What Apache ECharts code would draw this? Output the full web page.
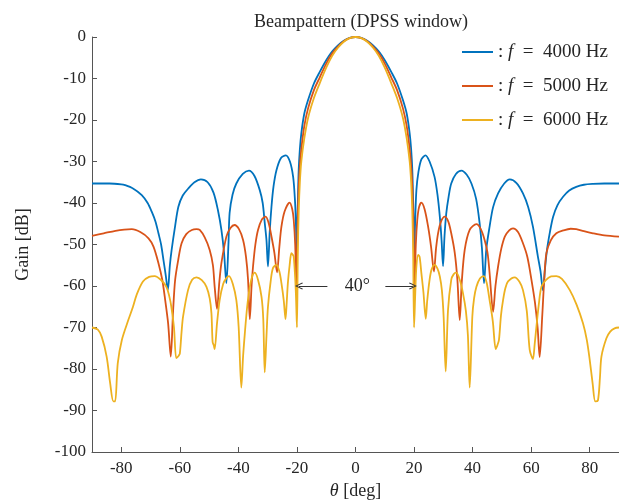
<!DOCTYPE html>
<html>
<head>
<meta charset="utf-8">
<script src="https://cdn.jsdelivr.net/npm/echarts@6/dist/echarts.min.js"></script>
<style>
  html, body { margin: 0; padding: 0; background: #fff; }
  #chart { width: 619px; height: 504px; }
</style>
</head>
<body>
<div id="chart"></div>
<script>
// Values: [theta (deg), gain (dB)]
const freqs = [4000, 5000, 6000]
const xTicks = [-80, -60, -40, -20, 0, 20, 40, 60, 80]

const gain4000 = [
  [-90, -35.3], [-84, -35.3], [-80, -35.5], [-78.7, -35.7], [-76, -36.5], [-73, -38.1], [-71, -40],
  [-69.6, -42.1], [-68.3, -44.5], [-67.3, -47.3], [-66.4, -50], [-65.6, -53.7], [-64.8, -57.5],
  [-64.1, -61], [-63.4, -55], [-62.8, -51.3], [-61.6, -45.5], [-60.5, -40.9], [-59, -38.2],
  [-57.1, -36.5], [-55, -35], [-52.8, -34.3], [-50.5, -35], [-48.5, -37.5], [-47, -41.7],
  [-45.8, -46.5], [-44.9, -52], [-44.1, -59.3], [-43.4, -50], [-43, -42.4], [-42, -38],
  [-40.7, -35.3], [-38.5, -33], [-36.4, -32.2], [-34.5, -33.5], [-32.7, -36.9], [-31.7, -40],
  [-31, -44.8], [-30.4, -49], [-29.9, -55.3], [-29.3, -47], [-28.7, -40.9], [-28, -36],
  [-27, -32.1], [-25.5, -29.2], [-23.8, -28.5], [-22.4, -30], [-21.3, -33.7], [-20.7, -39],
  [-20.35, -45], [-20.1, -52], [-19.7, -40], [-19.4, -32], [-19, -27], [-18.5, -23.2],
  [-17.5, -18.5], [-16.2, -15.2], [-14.2, -11.2], [-12.2, -8.4], [-10, -5.6], [-8, -3.5],
  [-6, -2], [-4, -0.9], [-2, -0.22], [0, 0], [2, -0.22], [4, -0.9], [6, -2], [8, -3.5],
  [10, -5.6], [12.2, -8.4], [14.2, -11.2], [16.2, -15.2], [17.5, -18.5], [18.5, -23.2],
  [19, -27], [19.4, -32], [19.7, -40], [20.1, -52], [20.35, -45], [20.8, -36.9], [21.5, -32.5],
  [22.5, -29.5], [23.9, -28.5], [25.3, -30], [27, -33.7], [28, -38], [28.8, -43.3], [29.4, -49],
  [29.9, -55.2], [30.4, -48], [31, -42.5], [31.8, -38.5], [32.7, -35.3], [34.3, -33], [36.2, -32.2],
  [38, -33.2], [39.6, -35.3], [41.2, -39], [42.4, -44.9], [43.2, -51], [43.9, -59.3], [44.7, -51],
  [45.8, -45.7], [47, -41], [48.7, -37.7], [50.8, -35.3], [52.7, -34.3], [55, -35.2], [57.2, -37.7],
  [59, -41], [60.6, -45.7], [62.3, -52.9], [63.2, -56.5], [64, -61], [64.7, -56], [65.4, -51.3],
  [66.4, -47], [67.5, -43.3], [69, -40.5], [70.9, -38.5], [73, -37], [75.4, -36.1], [78, -35.6],
  [81.1, -35.4], [85, -35.3], [90, -35.3]
]

const gain5000 = [
  [-90, -47.9], [-86, -47.3], [-82, -46.7], [-79, -46.4], [-76.4, -46.3], [-73.5, -47], [-70.7, -48.5],
  [-69, -50.5], [-67.3, -54.5], [-66, -58.5], [-65, -63.4], [-64, -69], [-63.1, -77], [-62.3, -66],
  [-61.6, -58.5], [-60.5, -53.5], [-59.4, -49.7], [-57.8, -47.5], [-55.9, -46.5], [-54.3, -46.3],
  [-53.2, -46.5], [-51.5, -48.3], [-49.8, -51.3], [-48.7, -55], [-48.1, -60.2], [-47.3, -65.5],
  [-46.5, -59], [-45.8, -54.5], [-44.1, -48.1], [-42.7, -46], [-41.3, -45.3], [-39.8, -46.3],
  [-38.4, -48.9], [-37.4, -53], [-36.7, -58.5], [-36.1, -68], [-35.5, -60], [-35, -55.3],
  [-34.2, -50], [-33.3, -46.5], [-32, -44], [-30.7, -43.3], [-29.6, -45], [-28.7, -48.1],
  [-27.7, -52], [-26.8, -56.7], [-26, -50.5], [-25.3, -45.7], [-24.2, -42], [-22.5, -39.9],
  [-21.6, -41.5], [-21.1, -44.1], [-20.6, -50], [-20.15, -61], [-19.8, -46], [-19.45, -37],
  [-19, -31], [-18.5, -27], [-17.5, -21.5], [-16.2, -17.2], [-14.2, -12.8], [-12.2, -9.7],
  [-10, -6.4], [-8, -4], [-6, -2.3], [-4, -1], [-2, -0.25], [0, 0], [2, -0.25], [4, -1], [6, -2.3],
  [8, -4], [10, -6.4], [12.2, -9.7], [14.2, -12.8], [16.2, -17.2], [17.5, -21.5], [18.5, -27],
  [19, -31], [19.45, -37], [19.8, -46], [20.15, -61], [20.6, -50], [21.1, -44.1], [21.7, -41],
  [22.5, -39.9], [23.6, -41.5], [24.8, -45.7], [25.8, -50.5], [26.8, -56.5], [27.5, -51],
  [28.2, -47.3], [29.2, -44.5], [30.5, -43.3], [31.7, -44.5], [32.7, -47.3], [33.9, -52],
  [34.8, -58.5], [35.6, -68.2], [36.3, -59], [37.3, -51.3], [39, -46.5], [41.3, -45.1],
  [42.8, -46.3], [44.1, -48.9], [45.1, -52], [45.8, -56.9], [47, -66.2], [47.8, -60], [48.7, -55.3],
  [49.8, -51], [51, -48.1], [52.5, -46.6], [53.8, -46.1], [55.5, -47], [57.2, -49.7], [58.7, -53],
  [60.1, -58.5], [61.3, -64], [62.2, -70], [62.9, -77.1], [63.8, -67], [64.5, -58], [65.2, -52.1],
  [66.7, -49], [68.6, -47.3], [71, -46.6], [73.5, -46.2], [75.4, -46.3], [78, -46.8], [81.1, -47.3],
  [85, -47.8], [90, -48.1]
]

const gain6000 = [
  [-90, -70], [-88, -70.5], [-86.7, -72.2], [-85, -77], [-83.8, -83.4], [-82.7, -87.8], [-82.1, -87.8],
  [-81.2, -78.6], [-79.8, -73], [-77.6, -68.2], [-76, -65], [-74.7, -62], [-72.6, -58.9],
  [-70.5, -57.8], [-68.6, -57.6], [-66.5, -58.5], [-64.6, -60.2], [-63.6, -62.5], [-62.9, -65],
  [-62, -70], [-61.2, -77.4], [-60.4, -76.8], [-60, -76.3], [-59.4, -71], [-58.9, -67.4],
  [-57.2, -61], [-55.8, -58.5], [-54.3, -57.9], [-52.5, -58.6], [-50.9, -60.2], [-49.8, -63],
  [-49.2, -66.6], [-48.8, -73.5], [-48.4, -74.3], [-48.1, -75.2], [-47.3, -69], [-46.4, -63.4],
  [-45.2, -59.5], [-44.1, -58.1], [-43.2, -57.6], [-41.9, -59.5], [-40.7, -63.4], [-39.9, -70],
  [-39, -84.5], [-38.4, -77], [-37.8, -71.4], [-37, -65], [-36.1, -60.2], [-35.2, -57.5],
  [-34.4, -56.8], [-33.3, -58.5], [-32.1, -62.6], [-31.5, -68], [-31, -80.8], [-30.4, -72],
  [-29.9, -65], [-29, -59], [-28.2, -55.7], [-27, -54.9], [-26, -56.5], [-25.3, -59.3],
  [-24.5, -63.5], [-23.9, -68], [-23.5, -64], [-23.1, -59.3], [-22.5, -55], [-21.9, -52.1],
  [-21.4, -52.5], [-21.1, -52.9], [-20.6, -58], [-20.3, -63], [-20, -70], [-19.7, -52],
  [-19.4, -42], [-19, -35], [-18.5, -30], [-17.5, -24.5], [-16.2, -19.5], [-14.2, -14.7],
  [-12.2, -11.1], [-10, -7.4], [-8, -4.6], [-6, -2.6], [-4, -1.15], [-2, -0.29], [0, 0],
  [2, -0.29], [4, -1.15], [6, -2.6], [8, -4.6], [10, -7.4], [12.2, -11.1], [14.2, -14.7],
  [16.2, -19.5], [17.5, -24.5], [18.5, -30], [19, -35], [19.4, -42], [19.7, -52], [20, -70],
  [20.4, -62], [20.8, -55.3], [21.4, -52.5], [21.9, -53], [22.5, -56.9], [23.2, -61.5], [24, -67.9],
  [24.5, -63.5], [25.3, -58.5], [26, -56], [27, -54.9], [28, -55.8], [28.8, -57.7], [29.5, -61],
  [30.1, -67.4], [30.8, -80.6], [31.6, -65.8], [32.7, -58.5], [33.5, -57.2], [34.4, -56.8],
  [35.6, -58.5], [36.7, -61.7], [37.7, -66], [38.4, -72], [39, -84.5], [39.9, -67.4], [40.5, -63],
  [41.3, -60.2], [42.5, -58.2], [43.8, -57.6], [44.8, -59.2], [45.8, -63.4], [46.9, -68.5],
  [47.9, -75.2], [48.5, -74.2], [49, -73], [49.7, -67], [50.4, -63.4], [51.2, -60.5], [52.1, -58.9],
  [54.4, -57.9], [56, -59], [57.2, -61], [58.5, -66], [59.5, -75.4], [60.6, -77.6], [61.2, -74],
  [61.8, -69.8], [62.6, -64.5], [63.5, -60.2], [65, -58.6], [66.8, -57.7], [68.6, -57.6],
  [70.5, -58.3], [73.2, -61], [75.5, -64.5], [77.7, -69], [79, -73], [80, -77.8], [81, -83.5],
  [81.9, -87.8], [82.8, -87.6], [83.5, -82], [84, -77], [85.7, -72.6], [87, -71], [88.5, -70.2],
  [90, -70]
]

// annotation: arrows at -60 dB between the first nulls
const arrowLeft = [[-9.6, -60], [-19.3, -60]]
const arrowRight = [[10.2, -60], [19.6, -60]]
const arrowText = [0.6, -60]

const serif = '"Liberation Serif", "DejaVu Serif", serif'
const textColor = '#262626'
const colors = ['#0072BD', '#D95319', '#EDB120']
const chevron = 'path://M5,0 L10,9 L9,10 L5,2.6 L1,10 L0,9 Z'

const chart = echarts.init(document.getElementById('chart'))

const lineSeries = (name, data, color) => ({
  name,
  type: 'line',
  data,
  showSymbol: false,
  symbol: 'none',
  smooth: 0.3,
  lineStyle: { color, width: 1.8 },
  itemStyle: { color },
  z: 2
})

const series = [
  lineSeries(`f = ${freqs[0]} Hz`, gain4000, colors[0]),
  lineSeries(`f = ${freqs[1]} Hz`, gain5000, colors[1]),
  lineSeries(`f = ${freqs[2]} Hz`, gain6000, colors[2])
]

series[0].markLine = {
  silent: true,
  symbol: ['none', chevron],
  symbolSize: [7, 8],
  label: { show: false },
  lineStyle: { color: '#333', width: 1, type: 'solid' },
  data: [
    [{ coord: arrowLeft[0] }, { coord: arrowLeft[1] }],
    [{ coord: arrowRight[0] }, { coord: arrowRight[1] }]
  ]
}
series[0].markPoint = {
  silent: true,
  symbol: 'circle',
  symbolSize: 0,
  label: {
    show: true,
    position: 'inside',
    formatter: '40°',
    fontFamily: serif,
    fontSize: 18,
    color: textColor
  },
  data: [{ coord: arrowText }]
}

const italic = { fontFamily: serif, fontSize: 19, fontStyle: 'italic', color: textColor }

chart.setOption({
  animation: false,
  backgroundColor: '#fff',
  title: {
    text: 'Beampattern (DPSS window)',
    left: 356,
    top: 8,
    textAlign: 'center',
    textStyle: { fontFamily: serif, fontSize: 18, fontWeight: 'normal', color: textColor }
  },
  legend: {
    orient: 'vertical',
    left: 462,
    top: 42,
    padding: 0,
    itemWidth: 31,
    itemHeight: 20,
    itemGap: 14,
    icon: 'path://M0,0 L31,0 L31,2 L0,2 Z',
    formatter: name => ': {i|f}  =  ' + name.replace('f = ', ''),
    textStyle: {
      fontFamily: serif,
      fontSize: 19,
      lineHeight: 20,
      color: textColor,
      rich: { i: Object.assign({ lineHeight: 20 }, italic) }
    },
    data: series.map(s => s.name)
  },
  grid: {
    left: 92,
    right: 0,
    top: 37,
    bottom: 52,
    containLabel: false,
    outerBoundsMode: 'none'
  },
  xAxis: {
    type: 'value',
    min: -90,
    max: 90,
    name: '{i|θ} [deg]',
    nameLocation: 'middle',
    nameGap: 30,
    nameTextStyle: {
      fontFamily: serif, fontSize: 18, color: textColor,
      rich: { i: Object.assign({}, italic, { fontSize: 18 }) }
    },
    axisLine: { show: true, onZero: false, lineStyle: { color: '#555', width: 1 } },
    axisTick: { show: true, inside: true, length: 5, customValues: xTicks, lineStyle: { color: '#555' } },
    axisLabel: { customValues: xTicks, margin: 8, fontFamily: serif, fontSize: 17, color: textColor },
    splitLine: { show: false }
  },
  yAxis: {
    type: 'value',
    min: -100,
    max: 0,
    interval: 10,
    name: 'Gain [dB]',
    nameLocation: 'middle',
    nameGap: 60,
    nameTextStyle: { fontFamily: serif, fontSize: 18, color: textColor },
    axisLine: { show: true, onZero: false, lineStyle: { color: '#555', width: 1 } },
    axisTick: { show: true, inside: true, length: 5, lineStyle: { color: '#555' } },
    axisLabel: { margin: 6, fontFamily: serif, fontSize: 17, color: textColor },
    splitLine: { show: false }
  },
  series
})
</script>
</body>
</html>
